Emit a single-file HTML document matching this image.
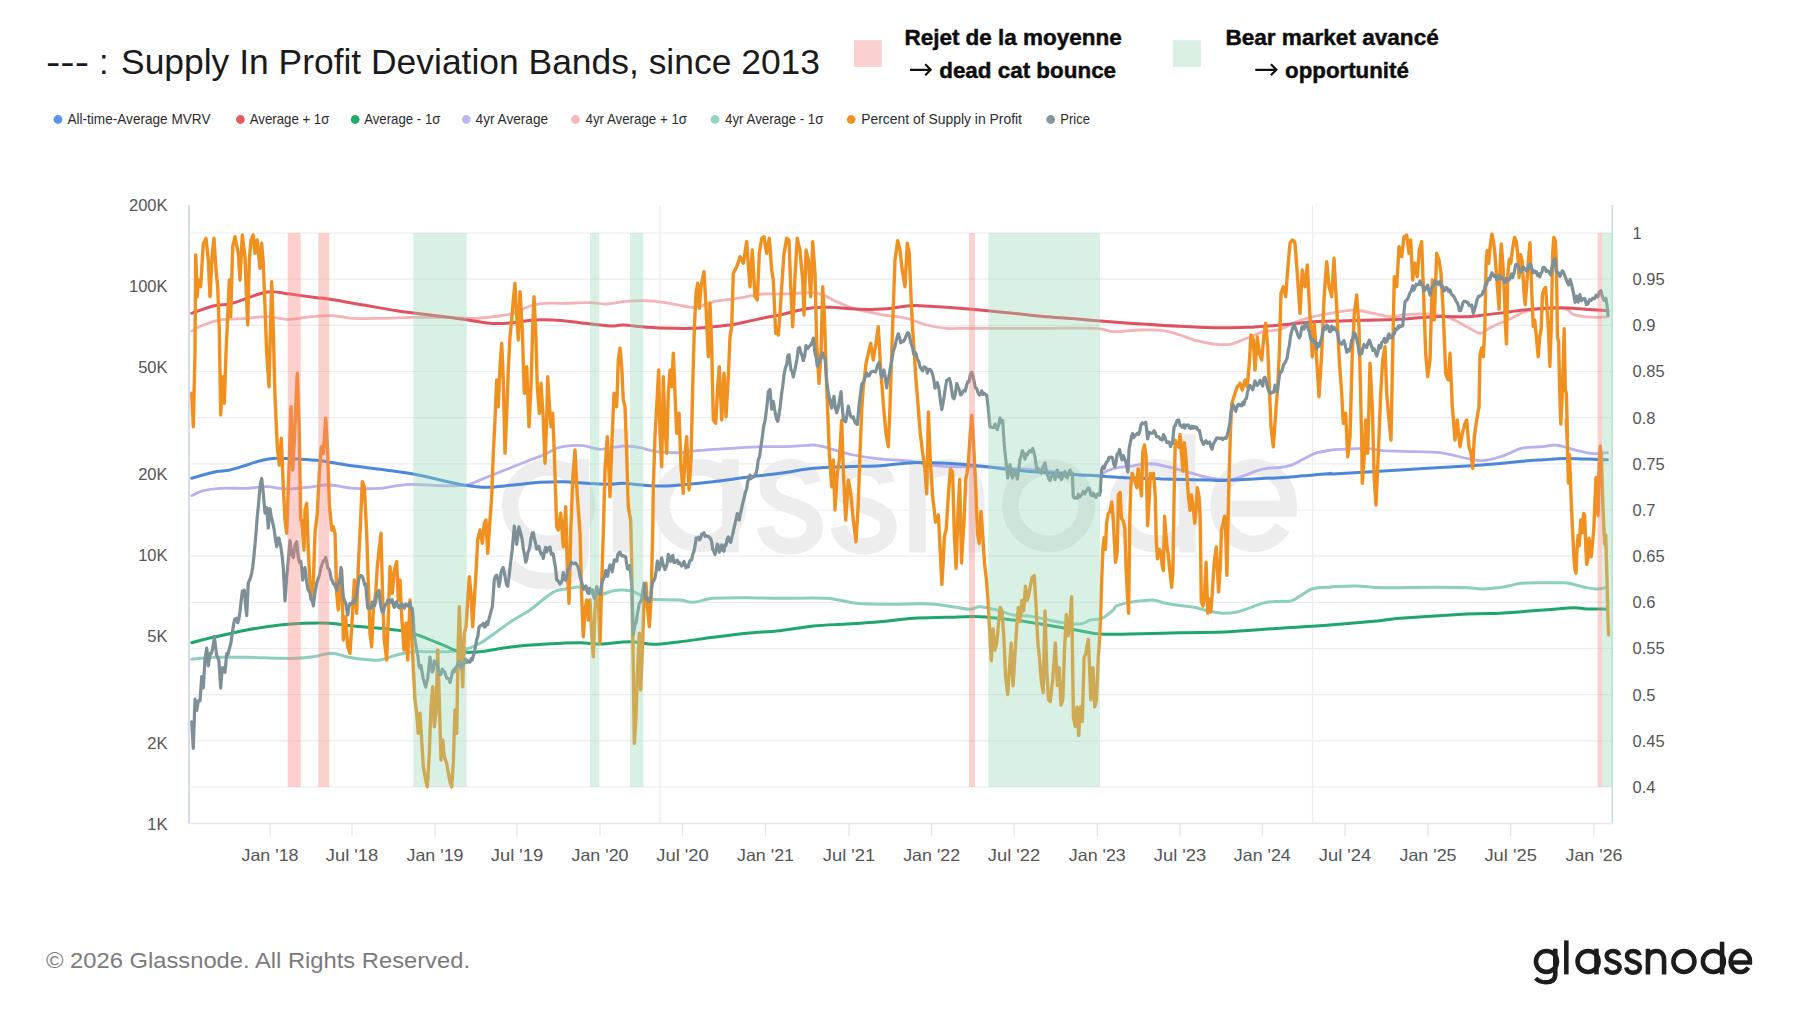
<!DOCTYPE html>
<html><head><meta charset="utf-8"><title>Supply In Profit Deviation Bands</title>
<style>html,body{margin:0;padding:0;background:#fff}body{width:1800px;height:1013px;overflow:hidden}</style></head>
<body>
<svg width="1800" height="1013" viewBox="0 0 1800 1013" style="display:block;font-family:'Liberation Sans',sans-serif">
<rect width="1800" height="1013" fill="#fff"/>
<g font-size="34.5" fill="#1a1a1a"><text x="46" y="73.5" textLength="43" lengthAdjust="spacingAndGlyphs">---</text><text x="99" y="73.5">:</text><text x="121" y="73.5" textLength="699" lengthAdjust="spacingAndGlyphs">Supply In Profit Deviation Bands, since 2013</text></g>
<rect x="854" y="40.2" width="27.8" height="26.7" fill="#fbd0d0"/>
<g font-weight="bold" font-size="22.3" fill="#0d0d0d" stroke="#0d0d0d" stroke-width="0.45">
<text x="904.4" y="44.7" textLength="217.4" lengthAdjust="spacingAndGlyphs">Rejet de la moyenne</text>
<text x="939.2" y="77.6" textLength="176.9" lengthAdjust="spacingAndGlyphs">dead cat bounce</text>
<text x="1225.4" y="44.7" textLength="213.4" lengthAdjust="spacingAndGlyphs">Bear market avancé</text>
<text x="1285" y="77.6" textLength="123.9" lengthAdjust="spacingAndGlyphs">opportunité</text>
</g>
<path d="M910,69.8 H930.7 M925.2,64.3 L930.7,69.8 L925.2,75.3" fill="none" stroke="#111" stroke-width="2.2" stroke-linecap="butt" stroke-linejoin="miter"/>
<path d="M1255.3,69.8 H1276.4 M1270.9,64.3 L1276.4,69.8 L1270.9,75.3" fill="none" stroke="#111" stroke-width="2.2" stroke-linecap="butt" stroke-linejoin="miter"/>
<rect x="1173" y="40.2" width="27.9" height="26.7" fill="#d9f0e3"/>
<g font-size="14.3" fill="#2b2b2b">
<circle cx="58" cy="119.5" r="4.4" fill="#5a96e3"/>
<text x="67.4" y="124.2" textLength="143.1" lengthAdjust="spacingAndGlyphs">All-time-Average MVRV</text>
<circle cx="240.4" cy="119.5" r="4.4" fill="#e55b62"/>
<text x="249.7" y="124.2" textLength="79.7" lengthAdjust="spacingAndGlyphs">Average + 1σ</text>
<circle cx="355.2" cy="119.5" r="4.4" fill="#1fab6e"/>
<text x="364.2" y="124.2" textLength="76.2" lengthAdjust="spacingAndGlyphs">Average - 1σ</text>
<circle cx="466.3" cy="119.5" r="4.4" fill="#bdb8f3"/>
<text x="475.6" y="124.2" textLength="72.5" lengthAdjust="spacingAndGlyphs">4yr Average</text>
<circle cx="575.5" cy="119.5" r="4.4" fill="#f7b8bc"/>
<text x="585.5" y="124.2" textLength="101.5" lengthAdjust="spacingAndGlyphs">4yr Average + 1σ</text>
<circle cx="715" cy="119.5" r="4.4" fill="#93d3c4"/>
<text x="725" y="124.2" textLength="98.5" lengthAdjust="spacingAndGlyphs">4yr Average - 1σ</text>
<circle cx="851.2" cy="119.5" r="4.4" fill="#ee9426"/>
<text x="861.2" y="124.2" textLength="160.8" lengthAdjust="spacingAndGlyphs">Percent of Supply in Profit</text>
<circle cx="1050.7" cy="119.5" r="4.4" fill="#8497a0"/>
<text x="1060.3" y="124.2" textLength="29.6" lengthAdjust="spacingAndGlyphs">Price</text>
</g>
<line x1="191" x2="1611" y1="233.0" y2="233.0" stroke="#ebebf0" stroke-width="1.2"/>
<line x1="191" x2="1611" y1="279.2" y2="279.2" stroke="#ebebf0" stroke-width="1.2"/>
<line x1="191" x2="1611" y1="325.3" y2="325.3" stroke="#ebebf0" stroke-width="1.2"/>
<line x1="191" x2="1611" y1="371.5" y2="371.5" stroke="#ebebf0" stroke-width="1.2"/>
<line x1="191" x2="1611" y1="417.7" y2="417.7" stroke="#ebebf0" stroke-width="1.2"/>
<line x1="191" x2="1611" y1="463.8" y2="463.8" stroke="#ebebf0" stroke-width="1.2"/>
<line x1="191" x2="1611" y1="510.0" y2="510.0" stroke="#ebebf0" stroke-width="1.2"/>
<line x1="191" x2="1611" y1="556.2" y2="556.2" stroke="#ebebf0" stroke-width="1.2"/>
<line x1="191" x2="1611" y1="602.3" y2="602.3" stroke="#ebebf0" stroke-width="1.2"/>
<line x1="191" x2="1611" y1="648.5" y2="648.5" stroke="#ebebf0" stroke-width="1.2"/>
<line x1="191" x2="1611" y1="694.7" y2="694.7" stroke="#ebebf0" stroke-width="1.2"/>
<line x1="191" x2="1611" y1="740.8" y2="740.8" stroke="#ebebf0" stroke-width="1.2"/>
<line x1="191" x2="1611" y1="787.0" y2="787.0" stroke="#ebebf0" stroke-width="1.2"/>
<line x1="660" x2="660" y1="205" y2="823.5" stroke="#ececf2" stroke-width="1.2"/>
<line x1="1312.5" x2="1312.5" y1="205" y2="823.5" stroke="#ececf2" stroke-width="1.2"/>
<g transform="translate(470.48,391.00) scale(0.4850)" stroke="#ededed"><g fill="none" stroke-width="34" stroke-linecap="butt"><circle cx="161" cy="236" r="79"/><path d="M227,140 V330 Q227,392 155,392 Q110,392 80,362"/><path d="M310,78 V333"/><circle cx="473" cy="236" r="79"/><path d="M536,140 V333"/><path d="M706,190 C700,165 680,157 660,157 C632,157 613,172 613,195 C613,222 640,230 662,237 C688,245 710,255 710,280 C710,305 688,320 660,320 C632,320 612,305 607,280"/><path d="M858,190 C852,165 832,157 812,157 C784,157 765,172 765,195 C765,222 792,230 814,237 C840,245 862,255 862,280 C862,305 840,320 812,320 C784,320 764,305 759,280"/><path d="M922,140 V333 M922,225 C922,180 950,157 985,157 C1020,157 1043,180 1043,225 V333"/><circle cx="1192" cy="236" r="79"/><circle cx="1413" cy="236" r="79"/><path d="M1478,88 V333"/><path d="M1544,243 H1687.2 A72.5,79 0 1 0 1674.4,281.3"/></g></g>
<line x1="189" x2="189" y1="205" y2="823.5" stroke="#ccd3ea" stroke-width="1.6"/>
<line x1="1612.3" x2="1612.3" y1="205" y2="823.5" stroke="#c4e2dc" stroke-width="1.6"/>
<line x1="189" x2="1612" y1="823.5" y2="823.5" stroke="#e3e5ee" stroke-width="1.4"/>
<g font-size="16.5" fill="#555" text-anchor="middle">
<line x1="270" x2="270" y1="823.5" y2="836.5" stroke="#e3e5ee" stroke-width="1.3"/>
<text x="270" y="860.5" textLength="57" lengthAdjust="spacingAndGlyphs">Jan '18</text>
<line x1="352" x2="352" y1="823.5" y2="836.5" stroke="#e3e5ee" stroke-width="1.3"/>
<text x="352" y="860.5" textLength="52.5" lengthAdjust="spacingAndGlyphs">Jul '18</text>
<line x1="435" x2="435" y1="823.5" y2="836.5" stroke="#e3e5ee" stroke-width="1.3"/>
<text x="435" y="860.5" textLength="57" lengthAdjust="spacingAndGlyphs">Jan '19</text>
<line x1="517" x2="517" y1="823.5" y2="836.5" stroke="#e3e5ee" stroke-width="1.3"/>
<text x="517" y="860.5" textLength="52.5" lengthAdjust="spacingAndGlyphs">Jul '19</text>
<line x1="600" x2="600" y1="823.5" y2="836.5" stroke="#e3e5ee" stroke-width="1.3"/>
<text x="600" y="860.5" textLength="57" lengthAdjust="spacingAndGlyphs">Jan '20</text>
<line x1="682.5" x2="682.5" y1="823.5" y2="836.5" stroke="#e3e5ee" stroke-width="1.3"/>
<text x="682.5" y="860.5" textLength="52.5" lengthAdjust="spacingAndGlyphs">Jul '20</text>
<line x1="765.5" x2="765.5" y1="823.5" y2="836.5" stroke="#e3e5ee" stroke-width="1.3"/>
<text x="765.5" y="860.5" textLength="57" lengthAdjust="spacingAndGlyphs">Jan '21</text>
<line x1="849" x2="849" y1="823.5" y2="836.5" stroke="#e3e5ee" stroke-width="1.3"/>
<text x="849" y="860.5" textLength="52.5" lengthAdjust="spacingAndGlyphs">Jul '21</text>
<line x1="931.7" x2="931.7" y1="823.5" y2="836.5" stroke="#e3e5ee" stroke-width="1.3"/>
<text x="931.7" y="860.5" textLength="57" lengthAdjust="spacingAndGlyphs">Jan '22</text>
<line x1="1014" x2="1014" y1="823.5" y2="836.5" stroke="#e3e5ee" stroke-width="1.3"/>
<text x="1014" y="860.5" textLength="52.5" lengthAdjust="spacingAndGlyphs">Jul '22</text>
<line x1="1097.3" x2="1097.3" y1="823.5" y2="836.5" stroke="#e3e5ee" stroke-width="1.3"/>
<text x="1097.3" y="860.5" textLength="57" lengthAdjust="spacingAndGlyphs">Jan '23</text>
<line x1="1180" x2="1180" y1="823.5" y2="836.5" stroke="#e3e5ee" stroke-width="1.3"/>
<text x="1180" y="860.5" textLength="52.5" lengthAdjust="spacingAndGlyphs">Jul '23</text>
<line x1="1262.3" x2="1262.3" y1="823.5" y2="836.5" stroke="#e3e5ee" stroke-width="1.3"/>
<text x="1262.3" y="860.5" textLength="57" lengthAdjust="spacingAndGlyphs">Jan '24</text>
<line x1="1345" x2="1345" y1="823.5" y2="836.5" stroke="#e3e5ee" stroke-width="1.3"/>
<text x="1345" y="860.5" textLength="52.5" lengthAdjust="spacingAndGlyphs">Jul '24</text>
<line x1="1428" x2="1428" y1="823.5" y2="836.5" stroke="#e3e5ee" stroke-width="1.3"/>
<text x="1428" y="860.5" textLength="57" lengthAdjust="spacingAndGlyphs">Jan '25</text>
<line x1="1510.7" x2="1510.7" y1="823.5" y2="836.5" stroke="#e3e5ee" stroke-width="1.3"/>
<text x="1510.7" y="860.5" textLength="52.5" lengthAdjust="spacingAndGlyphs">Jul '25</text>
<line x1="1594" x2="1594" y1="823.5" y2="836.5" stroke="#e3e5ee" stroke-width="1.3"/>
<text x="1594" y="860.5" textLength="57" lengthAdjust="spacingAndGlyphs">Jan '26</text>
</g>
<g font-size="16.5" fill="#555" text-anchor="end">
<text x="167.5" y="211.1">200K</text>
<text x="167.5" y="292.1">100K</text>
<text x="167.5" y="373.1">50K</text>
<text x="167.5" y="480.1">20K</text>
<text x="167.5" y="561.1">10K</text>
<text x="167.5" y="642.1">5K</text>
<text x="167.5" y="749.1">2K</text>
<text x="167.5" y="830.1">1K</text>
</g>
<g font-size="16.5" fill="#555">
<text x="1632.5" y="238.8">1</text>
<text x="1632.5" y="285.0">0.95</text>
<text x="1632.5" y="331.1">0.9</text>
<text x="1632.5" y="377.3">0.85</text>
<text x="1632.5" y="423.5">0.8</text>
<text x="1632.5" y="469.6">0.75</text>
<text x="1632.5" y="515.8">0.7</text>
<text x="1632.5" y="562.0">0.65</text>
<text x="1632.5" y="608.1">0.6</text>
<text x="1632.5" y="654.3">0.55</text>
<text x="1632.5" y="700.5">0.5</text>
<text x="1632.5" y="746.6">0.45</text>
<text x="1632.5" y="792.8">0.4</text>
</g>
<path d="M191.7,495.7 C193.6,494.8 198.6,491.9 203.3,490.7 C208.1,489.4 212.8,488.7 220.0,488.3 C227.2,487.9 238.9,488.6 246.7,488.3 C254.4,488.1 260.0,486.6 266.7,486.7 C273.3,486.8 280.0,488.9 286.7,489.0 C293.3,489.1 299.4,488.0 306.7,487.3 C313.9,486.7 322.2,484.8 330.0,485.0 C337.8,485.2 345.0,487.8 353.3,488.3 C361.7,488.9 372.8,488.8 380.0,488.3 C387.2,487.9 391.1,486.3 396.7,485.7 C402.2,485.0 406.1,484.3 413.3,484.3 C420.6,484.3 431.1,485.6 440.0,485.7 C448.9,485.8 460.0,485.9 466.7,485.0 C473.3,484.1 475.0,481.9 480.0,480.0 C485.0,478.1 491.1,475.6 496.7,473.3 C502.2,471.1 507.8,468.9 513.3,466.7 C518.9,464.4 525.0,461.9 530.0,460.0 C535.0,458.1 538.9,456.9 543.3,455.0 C547.8,453.1 552.2,449.9 556.7,448.3 C561.1,446.8 565.6,446.1 570.0,445.7 C574.4,445.2 578.3,445.1 583.3,445.7 C588.3,446.3 595.0,449.1 600.0,449.3 C605.0,449.6 608.9,447.9 613.3,447.3 C617.8,446.8 622.2,445.9 626.7,446.0 C631.1,446.1 635.0,446.7 640.0,447.7 C645.0,448.6 650.0,450.8 656.7,451.7 C663.3,452.5 673.3,452.8 680.0,452.7 C686.7,452.5 688.3,451.4 696.7,450.7 C705.0,449.9 718.9,449.0 730.0,448.3 C741.1,447.7 755.0,446.9 763.3,446.7 C771.7,446.4 774.4,446.8 780.0,446.7 C785.6,446.6 791.1,446.3 796.7,446.0 C802.2,445.7 808.9,444.9 813.3,445.0 C817.8,445.1 819.4,445.7 823.3,446.7 C827.2,447.6 831.7,449.3 836.7,450.7 C841.7,452.1 846.1,453.6 853.3,455.0 C860.6,456.4 871.1,458.1 880.0,459.0 C888.9,459.9 898.3,459.7 906.7,460.7 C915.0,461.7 922.2,464.0 930.0,465.0 C937.8,466.0 945.0,466.4 953.3,466.7 C961.7,466.9 970.0,466.4 980.0,466.7 C990.0,466.9 1002.2,467.7 1013.3,468.3 C1024.4,469.0 1035.6,469.6 1046.7,470.7 C1057.8,471.8 1072.8,474.2 1080.0,475.0 C1087.2,475.8 1086.8,475.3 1090.0,475.3 C1093.2,475.4 1096.7,476.0 1099.5,475.3 C1102.2,474.6 1103.4,472.4 1106.6,471.1 C1109.7,469.8 1114.1,468.4 1118.4,467.5 C1122.8,466.7 1128.3,466.5 1132.6,465.9 C1137.0,465.3 1140.9,464.3 1144.5,464.0 C1148.0,463.7 1150.4,463.6 1154.0,464.0 C1157.5,464.4 1161.5,465.3 1165.8,466.3 C1170.2,467.3 1175.3,468.6 1180.0,469.9 C1184.8,471.2 1189.5,472.6 1194.2,473.9 C1199.0,475.2 1204.1,476.8 1208.5,477.7 C1212.8,478.6 1216.4,479.1 1220.3,479.4 C1224.2,479.6 1228.2,480.0 1232.1,479.4 C1236.1,478.8 1240.0,477.2 1244.0,475.8 C1247.9,474.4 1251.9,472.3 1255.8,471.1 C1259.8,469.8 1263.7,468.8 1267.7,468.2 C1271.6,467.6 1275.6,468.0 1279.5,467.5 C1283.5,467.0 1287.4,466.5 1291.4,465.2 C1295.3,463.8 1299.3,461.2 1303.2,459.2 C1307.2,457.3 1310.6,454.8 1315.1,453.3 C1319.5,451.8 1325.8,450.9 1330.0,450.2 C1334.1,449.6 1333.9,449.6 1340.0,449.3 C1346.1,449.0 1359.4,448.1 1366.7,448.3 C1373.9,448.6 1375.0,450.1 1383.3,450.7 C1391.7,451.2 1407.2,451.3 1416.7,451.7 C1426.1,452.0 1431.7,451.6 1440.0,452.7 C1448.3,453.8 1459.4,457.0 1466.7,458.3 C1473.9,459.7 1477.8,460.9 1483.3,460.7 C1488.9,460.4 1495.4,458.3 1500.0,456.9 C1504.6,455.6 1507.2,454.0 1510.9,452.6 C1514.5,451.1 1518.1,449.1 1521.7,448.2 C1525.3,447.3 1528.9,447.4 1532.6,447.1 C1536.2,446.8 1539.6,446.8 1543.4,446.5 C1547.2,446.1 1551.7,444.9 1555.4,445.0 C1559.0,445.1 1561.7,446.2 1565.1,447.1 C1568.6,448.0 1572.4,449.5 1576.0,450.4 C1579.6,451.3 1583.6,452.0 1586.8,452.6 C1590.1,453.1 1592.1,453.7 1595.5,453.7 C1599.0,453.7 1605.5,452.7 1607.5,452.6" fill="none" stroke="#b9b1ef" stroke-width="2.8" stroke-linecap="round" stroke-linejoin="round" opacity="1"/>
<path d="M191.7,331.0 C193.6,330.0 198.6,326.8 203.3,325.0 C208.1,323.2 212.8,321.1 220.0,320.0 C227.2,318.9 238.9,318.9 246.7,318.3 C254.4,317.8 260.0,316.5 266.7,316.7 C273.3,316.8 280.0,319.2 286.7,319.3 C293.3,319.4 299.4,317.9 306.7,317.3 C313.9,316.7 322.2,315.5 330.0,315.7 C337.8,315.8 345.0,317.9 353.3,318.3 C361.7,318.8 370.0,318.5 380.0,318.3 C390.0,318.2 402.2,317.5 413.3,317.3 C424.4,317.2 436.7,317.2 446.7,317.3 C456.7,317.5 465.6,318.4 473.3,318.3 C481.1,318.2 486.7,317.5 493.3,316.7 C500.0,315.8 507.2,315.1 513.3,313.3 C519.4,311.6 525.0,307.7 530.0,306.0 C535.0,304.3 537.8,303.8 543.3,303.3 C548.9,302.9 555.6,303.4 563.3,303.3 C571.1,303.2 582.8,302.6 590.0,302.7 C597.2,302.8 601.1,304.2 606.7,304.0 C612.2,303.8 617.2,302.2 623.3,301.7 C629.4,301.1 636.7,300.6 643.3,300.7 C650.0,300.8 656.7,301.4 663.3,302.3 C670.0,303.2 677.8,305.2 683.3,306.0 C688.9,306.8 691.7,308.1 696.7,307.3 C701.7,306.6 707.8,303.0 713.3,301.7 C718.9,300.3 724.4,300.2 730.0,299.3 C735.6,298.5 741.1,297.6 746.7,296.7 C752.2,295.8 757.8,294.4 763.3,294.0 C768.9,293.6 774.4,294.1 780.0,294.0 C785.6,293.9 791.1,293.6 796.7,293.3 C802.2,293.1 808.9,292.4 813.3,292.7 C817.8,292.9 819.4,293.5 823.3,295.0 C827.2,296.5 831.7,299.4 836.7,301.7 C841.7,303.9 846.1,306.2 853.3,308.3 C860.6,310.4 871.1,312.7 880.0,314.3 C888.9,316.0 898.9,316.6 906.7,318.3 C914.4,320.1 920.0,323.3 926.7,325.0 C933.3,326.7 940.0,327.8 946.7,328.3 C953.3,328.9 958.9,328.3 966.7,328.3 C974.4,328.3 980.0,328.3 993.3,328.3 C1006.7,328.3 1029.4,328.3 1046.7,328.3 C1063.9,328.3 1085.6,327.8 1096.7,328.3 C1107.8,328.9 1106.1,331.4 1113.3,331.7 C1120.6,331.9 1131.7,330.2 1140.0,330.0 C1148.3,329.8 1156.7,329.8 1163.3,330.7 C1170.0,331.5 1174.4,333.3 1180.0,335.0 C1185.6,336.7 1191.1,339.2 1196.7,340.7 C1202.2,342.2 1207.8,343.4 1213.3,344.0 C1218.9,344.6 1224.4,345.3 1230.0,344.3 C1235.6,343.4 1241.1,340.4 1246.7,338.3 C1252.2,336.2 1257.8,333.2 1263.3,331.7 C1268.9,330.2 1274.4,331.0 1280.0,329.3 C1285.6,327.7 1291.1,323.8 1296.7,321.7 C1302.2,319.6 1307.8,318.1 1313.3,316.7 C1318.9,315.3 1324.4,314.3 1330.0,313.3 C1335.6,312.3 1342.2,311.2 1346.7,310.7 C1351.1,310.1 1352.2,309.6 1356.7,310.0 C1361.1,310.4 1367.8,312.2 1373.3,313.3 C1378.9,314.4 1384.4,316.4 1390.0,316.7 C1395.6,316.9 1400.6,315.1 1406.7,314.7 C1412.8,314.2 1420.0,313.7 1426.7,314.0 C1433.3,314.3 1440.0,314.6 1446.7,316.7 C1453.3,318.8 1461.1,323.9 1466.7,326.7 C1472.2,329.4 1476.3,333.0 1480.0,333.3 C1483.7,333.6 1485.8,330.1 1488.7,328.6 C1491.6,327.0 1494.5,325.5 1497.4,324.2 C1500.3,322.9 1503.2,322.2 1506.1,321.0 C1508.9,319.7 1511.8,318.1 1514.7,316.6 C1517.6,315.2 1520.2,313.5 1523.4,312.3 C1526.7,311.1 1530.7,310.2 1534.3,309.4 C1537.9,308.7 1541.5,308.3 1545.1,307.9 C1548.8,307.6 1552.4,307.2 1556.0,307.5 C1559.6,307.7 1563.9,308.3 1566.8,309.4 C1569.7,310.6 1570.5,313.2 1573.4,314.4 C1576.3,315.6 1580.2,316.1 1584.2,316.6 C1588.2,317.1 1593.3,317.3 1597.2,317.3 C1601.2,317.3 1606.3,316.7 1608.1,316.6" fill="none" stroke="#f4b3b6" stroke-width="2.8" stroke-linecap="round" stroke-linejoin="round" opacity="1"/>
<path d="M191.7,659.3 C195.3,659.0 204.2,657.7 213.3,657.3 C222.5,657.0 235.6,657.2 246.7,657.3 C257.8,657.5 271.7,658.2 280.0,658.3 C288.3,658.5 291.1,658.6 296.7,658.3 C302.2,658.1 307.5,657.5 313.3,656.7 C319.2,655.8 326.1,653.3 331.7,653.3 C337.2,653.3 341.4,655.7 346.7,656.7 C351.9,657.7 357.8,658.8 363.3,659.3 C368.9,659.9 374.4,660.7 380.0,660.0 C385.6,659.3 391.1,656.4 396.7,655.0 C402.2,653.6 408.3,652.2 413.3,651.7 C418.3,651.1 421.1,651.7 426.7,651.7 C432.2,651.7 440.6,651.9 446.7,651.7 C452.8,651.4 457.8,651.4 463.3,650.0 C468.9,648.6 474.4,646.4 480.0,643.3 C485.6,640.3 491.1,635.6 496.7,631.7 C502.2,627.8 507.8,623.6 513.3,620.0 C518.9,616.4 524.4,613.9 530.0,610.0 C535.6,606.1 542.2,599.9 546.7,596.7 C551.1,593.4 552.8,592.1 556.7,590.7 C560.6,589.3 566.1,588.9 570.0,588.3 C573.9,587.8 575.6,586.2 580.0,587.3 C584.4,588.4 591.1,594.4 596.7,595.0 C602.2,595.6 608.9,591.5 613.3,590.7 C617.8,589.8 620.0,589.8 623.3,590.0 C626.7,590.2 630.0,590.6 633.3,591.7 C636.7,592.8 640.0,595.4 643.3,596.7 C646.7,597.9 647.2,598.8 653.3,599.3 C659.4,599.9 673.3,599.5 680.0,600.0 C686.7,600.5 687.8,602.6 693.3,602.3 C698.9,602.1 704.4,599.1 713.3,598.3 C722.2,597.6 735.6,597.7 746.7,597.7 C757.8,597.7 766.7,598.2 780.0,598.3 C793.3,598.4 813.9,597.5 826.7,598.3 C839.4,599.2 846.1,602.3 856.7,603.3 C867.2,604.3 877.8,604.2 890.0,604.3 C902.2,604.4 918.9,603.5 930.0,604.0 C941.1,604.5 950.0,606.4 956.7,607.3 C963.3,608.2 966.1,609.4 970.0,609.3 C973.9,609.2 975.6,606.6 980.0,606.7 C984.4,606.8 991.1,608.6 996.7,610.0 C1002.2,611.4 1007.2,613.9 1013.3,615.0 C1019.4,616.1 1026.1,615.6 1033.3,616.7 C1040.6,617.8 1048.9,620.4 1056.7,621.7 C1064.4,622.9 1074.4,624.3 1080.0,624.0 C1085.6,623.7 1086.4,620.9 1090.0,620.0 C1093.6,619.1 1097.8,620.0 1101.7,618.3 C1105.6,616.7 1110.9,612.0 1113.3,610.0 C1115.7,608.0 1113.6,607.4 1116.1,606.1 C1118.5,604.9 1124.0,603.4 1127.9,602.6 C1131.9,601.7 1135.4,601.3 1139.8,600.9 C1144.1,600.5 1149.6,599.8 1154.0,600.2 C1158.3,600.6 1161.5,602.4 1165.8,603.3 C1170.2,604.2 1175.3,605.0 1180.0,605.6 C1184.8,606.3 1189.5,606.4 1194.2,607.3 C1199.0,608.2 1203.7,609.9 1208.5,610.9 C1213.2,611.8 1217.9,613.0 1222.7,613.2 C1227.4,613.4 1232.1,613.0 1236.9,612.0 C1241.6,611.0 1246.4,608.9 1251.1,607.3 C1255.8,605.7 1260.6,603.5 1265.3,602.6 C1270.1,601.6 1275.2,601.7 1279.5,601.4 C1283.9,601.1 1287.8,601.9 1291.4,600.9 C1294.9,599.9 1297.7,597.3 1300.9,595.5 C1304.0,593.6 1307.2,590.8 1310.3,589.5 C1313.5,588.2 1316.5,588.0 1319.8,587.6 C1323.1,587.2 1327.7,587.3 1330.0,587.2 C1332.2,587.0 1328.9,586.9 1333.3,586.7 C1337.8,586.5 1348.3,585.8 1356.7,586.0 C1365.0,586.2 1370.6,587.4 1383.3,587.7 C1396.1,587.9 1419.4,587.3 1433.3,587.3 C1447.2,587.3 1458.3,587.4 1466.7,587.7 C1475.0,587.9 1477.8,589.0 1483.3,589.0 C1488.9,589.0 1495.4,588.2 1500.0,587.6 C1504.6,587.0 1507.2,586.2 1510.9,585.4 C1514.5,584.7 1516.3,583.7 1521.7,583.3 C1527.1,582.8 1536.2,582.9 1543.4,582.8 C1550.7,582.8 1559.7,582.5 1565.1,582.8 C1570.6,583.2 1572.4,584.2 1576.0,585.0 C1579.6,585.8 1583.6,587.0 1586.8,587.6 C1590.1,588.3 1592.3,588.9 1595.5,588.9 C1598.8,588.9 1604.6,587.8 1606.4,587.6" fill="none" stroke="#8ccfbf" stroke-width="3.0" stroke-linecap="round" stroke-linejoin="round" opacity="1"/>
<path d="M191.7,478.3 C195.3,477.3 206.9,473.7 213.3,472.3 C219.7,470.9 224.4,471.2 230.0,470.0 C235.6,468.8 241.1,466.7 246.7,465.0 C252.2,463.3 258.3,461.1 263.3,460.0 C268.3,458.9 271.1,458.5 276.7,458.3 C282.2,458.2 289.4,458.6 296.7,459.0 C303.9,459.4 311.7,459.7 320.0,460.7 C328.3,461.7 336.7,463.6 346.7,465.0 C356.7,466.4 368.9,467.8 380.0,469.3 C391.1,470.8 403.3,472.2 413.3,474.0 C423.3,475.8 431.7,478.2 440.0,480.0 C448.3,481.8 455.6,483.8 463.3,485.0 C471.1,486.2 478.3,487.3 486.7,487.3 C495.0,487.3 504.4,485.8 513.3,485.0 C522.2,484.2 531.7,482.9 540.0,482.3 C548.3,481.8 555.6,481.5 563.3,481.7 C571.1,481.8 578.9,482.9 586.7,483.3 C594.4,483.8 603.9,484.3 610.0,484.3 C616.1,484.3 616.1,483.1 623.3,483.3 C630.6,483.6 643.9,485.7 653.3,486.0 C662.8,486.3 670.0,485.7 680.0,485.0 C690.0,484.3 702.2,482.9 713.3,481.7 C724.4,480.4 735.6,478.7 746.7,477.3 C757.8,475.9 768.9,474.8 780.0,473.3 C791.1,471.8 802.2,469.4 813.3,468.3 C824.4,467.2 835.6,467.1 846.7,466.7 C857.8,466.2 868.9,466.3 880.0,465.7 C891.1,465.0 902.2,463.1 913.3,462.7 C924.4,462.3 935.6,462.8 946.7,463.3 C957.8,463.9 968.9,464.9 980.0,466.0 C991.1,467.1 1002.2,468.9 1013.3,470.0 C1024.4,471.1 1035.6,471.8 1046.7,472.7 C1057.8,473.5 1072.8,474.6 1080.0,475.0 C1087.2,475.4 1084.4,475.0 1090.0,475.3 C1095.6,475.7 1105.8,476.5 1113.7,477.0 C1121.6,477.5 1129.5,477.9 1137.4,478.2 C1145.3,478.5 1153.2,478.7 1161.1,478.9 C1169.0,479.1 1176.9,479.2 1184.8,479.4 C1192.7,479.6 1202.1,479.9 1208.5,480.1 C1214.8,480.3 1216.7,480.7 1222.7,480.5 C1228.6,480.4 1234.5,479.8 1244.0,479.4 C1253.5,478.9 1269.7,478.3 1279.5,477.7 C1289.4,477.1 1294.8,476.5 1303.2,475.8 C1311.6,475.1 1325.0,473.7 1330.0,473.4 C1335.0,473.1 1321.7,474.6 1333.3,474.0 C1345.0,473.4 1377.8,471.3 1400.0,470.0 C1422.2,468.7 1450.0,467.1 1466.7,466.0 C1483.3,464.9 1490.8,464.2 1500.0,463.4 C1509.2,462.6 1514.5,461.9 1521.7,461.3 C1528.9,460.6 1536.2,460.2 1543.4,459.7 C1550.7,459.3 1557.9,458.8 1565.1,458.6 C1572.4,458.5 1579.8,458.9 1586.8,459.1 C1593.9,459.3 1604.0,459.6 1607.5,459.7" fill="none" stroke="#4d87da" stroke-width="3.0" stroke-linecap="round" stroke-linejoin="round" opacity="1"/>
<path d="M191.7,313.3 C195.3,312.1 206.9,307.6 213.3,306.0 C219.7,304.4 224.4,305.3 230.0,304.0 C235.6,302.7 241.1,300.2 246.7,298.3 C252.2,296.4 258.9,293.8 263.3,292.7 C267.8,291.6 268.9,291.4 273.3,291.7 C277.8,291.9 283.3,293.1 290.0,294.0 C296.7,294.9 306.7,296.4 313.3,297.3 C320.0,298.2 321.7,298.1 330.0,299.3 C338.3,300.6 352.2,303.1 363.3,305.0 C374.4,306.9 385.6,309.0 396.7,310.7 C407.8,312.3 418.9,313.6 430.0,315.0 C441.1,316.4 453.3,317.9 463.3,319.3 C473.3,320.7 481.7,322.8 490.0,323.3 C498.3,323.9 506.1,323.2 513.3,322.7 C520.6,322.1 526.7,320.4 533.3,320.0 C540.0,319.6 545.6,319.6 553.3,320.0 C561.1,320.4 570.6,321.7 580.0,322.7 C589.4,323.7 602.8,325.6 610.0,326.0 C617.2,326.4 617.2,324.8 623.3,325.0 C629.4,325.2 638.3,326.8 646.7,327.3 C655.0,327.9 665.6,328.2 673.3,328.3 C681.1,328.5 686.7,328.6 693.3,328.3 C700.0,328.1 707.2,327.2 713.3,326.7 C719.4,326.1 724.4,325.8 730.0,325.0 C735.6,324.2 740.6,322.9 746.7,321.7 C752.8,320.4 761.1,318.4 766.7,317.3 C772.2,316.2 775.0,316.1 780.0,315.0 C785.0,313.9 791.1,311.9 796.7,310.7 C802.2,309.4 807.8,308.2 813.3,307.7 C818.9,307.1 821.7,307.1 830.0,307.3 C838.3,307.6 853.9,309.1 863.3,309.3 C872.8,309.6 879.4,309.2 886.7,308.7 C893.9,308.1 901.1,306.5 906.7,306.0 C912.2,305.5 913.3,305.4 920.0,305.7 C926.7,305.9 936.7,306.6 946.7,307.3 C956.7,308.1 968.9,309.0 980.0,310.0 C991.1,311.0 1002.2,312.2 1013.3,313.3 C1024.4,314.4 1035.6,315.7 1046.7,316.7 C1057.8,317.7 1068.9,318.4 1080.0,319.3 C1091.1,320.2 1102.2,321.2 1113.3,322.0 C1124.4,322.8 1135.6,323.6 1146.7,324.3 C1157.8,325.1 1168.9,325.8 1180.0,326.3 C1191.1,326.9 1202.2,327.5 1213.3,327.7 C1224.4,327.8 1235.6,327.8 1246.7,327.3 C1257.8,326.9 1268.9,325.9 1280.0,325.0 C1291.1,324.1 1302.2,322.4 1313.3,321.7 C1324.4,320.9 1332.2,321.1 1346.7,320.7 C1361.1,320.3 1385.6,320.0 1400.0,319.3 C1414.4,318.7 1422.2,317.1 1433.3,316.7 C1444.4,316.2 1458.9,316.9 1466.7,316.7 C1474.4,316.5 1474.2,316.2 1480.0,315.5 C1485.8,314.9 1494.5,313.8 1501.7,312.9 C1508.9,312.0 1516.2,310.9 1523.4,310.1 C1530.7,309.3 1537.9,308.7 1545.1,308.4 C1552.4,308.0 1559.6,307.7 1566.8,307.9 C1574.1,308.1 1581.7,309.0 1588.6,309.4 C1595.4,309.9 1604.8,310.5 1608.1,310.8" fill="none" stroke="#e0525f" stroke-width="3.0" stroke-linecap="round" stroke-linejoin="round" opacity="1"/>
<path d="M191.7,642.7 C195.3,641.8 204.2,639.4 213.3,637.3 C222.5,635.2 235.6,632.1 246.7,630.0 C257.8,627.9 270.6,626.1 280.0,625.0 C289.4,623.9 295.0,623.6 303.3,623.3 C311.7,623.1 321.7,622.9 330.0,623.3 C338.3,623.8 345.0,625.2 353.3,626.0 C361.7,626.8 371.1,627.4 380.0,628.3 C388.9,629.3 398.9,630.0 406.7,631.7 C414.4,633.3 420.0,635.8 426.7,638.3 C433.3,640.8 441.1,644.4 446.7,646.7 C452.2,648.9 454.4,650.8 460.0,651.7 C465.6,652.5 471.1,652.5 480.0,651.7 C488.9,650.8 502.2,647.9 513.3,646.7 C524.4,645.4 535.6,644.7 546.7,644.0 C557.8,643.3 571.1,642.7 580.0,642.7 C588.9,642.7 591.7,644.2 600.0,644.0 C608.3,643.8 621.1,641.6 630.0,641.7 C638.9,641.7 645.0,644.3 653.3,644.3 C661.7,644.3 670.0,642.8 680.0,641.7 C690.0,640.5 702.2,638.7 713.3,637.3 C724.4,635.9 735.6,634.4 746.7,633.3 C757.8,632.2 768.9,631.9 780.0,630.7 C791.1,629.4 802.2,627.1 813.3,626.0 C824.4,624.9 835.6,624.7 846.7,624.0 C857.8,623.3 868.9,622.6 880.0,621.7 C891.1,620.7 902.2,619.1 913.3,618.3 C924.4,617.6 935.6,617.6 946.7,617.3 C957.8,617.1 968.9,616.2 980.0,616.7 C991.1,617.1 1002.2,618.6 1013.3,620.0 C1024.4,621.4 1035.6,623.2 1046.7,625.0 C1057.8,626.8 1071.1,629.2 1080.0,630.7 C1088.9,632.2 1091.7,633.4 1100.0,634.0 C1108.3,634.6 1116.7,634.2 1130.0,634.0 C1143.3,633.8 1163.3,633.1 1180.0,632.7 C1196.7,632.3 1213.3,632.4 1230.0,631.7 C1246.7,630.9 1263.3,629.4 1280.0,628.3 C1296.7,627.2 1313.3,626.3 1330.0,625.0 C1346.7,623.7 1368.3,621.8 1380.0,620.7 C1391.7,619.6 1385.6,619.4 1400.0,618.3 C1414.4,617.2 1450.0,614.9 1466.7,614.0 C1483.3,613.1 1490.8,613.6 1500.0,613.2 C1509.2,612.8 1514.5,612.2 1521.7,611.7 C1528.9,611.2 1536.2,610.5 1543.4,610.0 C1550.7,609.4 1559.7,608.6 1565.1,608.2 C1570.6,607.9 1572.4,607.7 1576.0,607.8 C1579.6,607.9 1581.8,608.7 1586.8,608.9 C1591.9,609.1 1603.1,608.9 1606.4,608.9" fill="none" stroke="#1ea66c" stroke-width="3.0" stroke-linecap="round" stroke-linejoin="round" opacity="1"/>
<polyline points="191.7,393.3 193.3,426.7 195.0,353.3 195.7,255.0 197.3,296.7 198.3,280.0 200.7,286.7 202.0,264.7 203.3,243.3 204.7,241.5 206.0,238.3 208.3,260.0 210.0,296.7 212.3,253.3 214.0,238.3 216.0,270.0 217.7,286.7 219.3,330.0 220.7,415.0 222.7,376.7 224.3,403.3 226.0,353.3 227.7,316.7 229.3,280.0 230.7,316.7 232.7,246.7 235.0,236.7 236.7,245.5 238.3,253.3 240.0,280.0 242.3,235.0 243.7,247.1 245.0,256.7 246.3,292.0 247.7,325.0 249.3,260.0 251.0,240.0 253.3,235.0 255.0,253.3 257.3,240.0 258.7,255.6 260.0,268.3 261.7,243.3 263.3,263.3 265.0,306.7 266.7,353.3 269.0,386.7 270.0,346.7 271.7,281.7 273.3,330.0 275.0,396.7 277.3,446.7 279.3,465.0 281.3,438.3 283.3,486.7 285.0,520.0 286.7,533.3 288.0,495.7 289.3,460.0 291.0,406.7 292.7,470.0 294.3,440.0 295.8,405.7 297.3,373.3 299.3,433.3 300.7,520.0 301.7,520.0 304.0,550.0 305.0,510.0 306.7,503.3 308.3,550.0 310.0,583.3 311.7,596.7 313.3,583.3 315.0,533.3 317.3,513.3 319.3,473.3 321.3,446.7 323.3,453.3 325.7,418.3 327.7,453.3 329.3,503.3 331.7,530.0 333.3,526.7 335.0,533.3 336.7,593.3 338.3,610.0 340.0,586.7 341.7,570.0 343.3,640.0 345.7,616.7 347.7,646.7 350.0,653.3 352.3,616.7 354.3,580.0 356.7,613.3 358.3,566.7 360.0,533.3 362.3,481.7 364.3,486.7 366.7,533.3 368.3,583.3 370.0,633.3 371.7,646.7 373.3,610.0 375.7,593.3 377.3,566.7 379.0,550.0 381.0,533.3 382.7,600.0 384.3,640.0 386.7,660.0 388.3,616.7 390.0,566.7 392.3,593.3 394.3,570.0 396.7,561.7 398.3,600.0 400.0,580.0 401.7,616.7 404.0,650.0 406.0,623.3 407.7,660.0 410.0,600.0 411.7,633.3 413.3,666.7 415.0,700.0 416.7,713.3 418.3,733.3 420.0,713.3 421.7,740.0 423.3,766.7 425.7,780.0 427.3,786.7 429.3,753.3 431.0,706.7 432.7,686.7 434.3,726.7 436.0,713.3 437.7,650.0 439.3,700.0 441.0,760.0 442.7,740.0 444.3,756.7 446.7,763.3 449.0,776.7 450.3,782.6 451.7,786.7 453.3,763.3 455.0,710.0 456.7,733.3 458.3,640.0 459.3,606.7 461.0,650.0 462.7,686.7 464.3,633.3 466.0,626.7 467.7,600.0 469.3,576.7 471.0,593.3 472.7,626.7 474.3,600.0 476.0,573.3 477.7,540.0 480.0,530.0 482.3,543.3 484.3,523.3 486.0,520.0 487.7,553.3 490.0,520.0 491.7,496.7 493.3,453.3 495.0,420.0 496.7,380.0 498.3,406.7 500.0,366.7 501.7,343.3 503.3,380.0 505.0,453.3 506.7,413.3 508.3,370.0 510.0,336.7 511.7,320.0 513.3,300.0 515.0,283.3 516.7,316.7 518.3,340.0 520.0,291.7 522.3,330.0 524.3,393.3 526.7,366.7 529.0,426.7 531.0,386.7 532.7,326.7 534.0,296.7 535.7,330.0 537.3,386.7 539.3,413.3 541.0,383.3 543.3,420.0 545.0,463.3 546.7,420.0 547.7,376.7 549.3,403.3 551.0,426.7 552.7,413.3 554.3,453.3 556.7,526.7 558.3,530.0 560.7,513.3 562.0,528.9 563.3,546.7 565.7,506.7 567.3,566.7 569.0,603.3 570.7,533.3 572.7,480.0 575.0,450.0 577.3,496.7 578.7,514.4 580.0,533.3 581.7,596.7 583.3,636.7 585.0,610.0 586.7,600.0 588.3,620.0 590.0,600.0 591.7,633.3 593.3,656.7 595.0,610.0 596.7,586.7 598.3,600.0 600.0,643.3 601.7,583.3 603.3,533.3 605.0,470.0 607.3,436.7 608.7,465.7 610.0,496.7 612.0,440.0 614.0,393.3 615.3,401.6 616.7,406.7 618.3,360.0 620.0,348.3 621.7,366.7 623.3,400.0 625.0,406.7 626.7,453.3 628.3,506.7 630.7,520.0 631.7,566.7 633.3,666.7 634.3,743.3 636.0,716.7 637.7,666.7 639.3,633.3 640.7,690.0 642.7,640.0 644.0,600.0 646.0,583.3 647.7,610.0 649.3,626.7 651.0,600.0 652.7,533.3 653.3,486.7 655.0,436.7 656.7,406.7 658.7,370.0 660.0,433.3 661.7,466.7 663.3,376.7 665.0,426.7 666.7,453.3 668.3,393.3 670.0,370.0 671.7,386.7 673.3,353.3 675.0,393.3 676.7,433.3 679.0,413.3 681.0,466.7 683.3,493.3 685.0,453.3 686.7,436.7 689.0,490.0 691.0,460.0 692.7,386.7 694.3,330.0 696.0,293.3 697.7,283.3 699.3,308.3 701.0,286.7 702.5,278.8 704.0,271.7 706.0,306.7 708.3,356.7 710.0,303.3 711.7,346.7 713.3,420.0 715.7,423.3 717.7,386.7 719.3,366.7 721.7,420.0 724.0,373.3 726.0,416.7 728.3,376.7 730.0,336.7 731.7,326.7 733.3,273.3 735.0,269.9 736.7,266.7 738.3,262.3 740.0,256.7 741.7,260.1 743.3,263.3 745.0,252.5 746.7,241.7 748.3,265.0 750.0,286.7 752.3,250.0 753.7,274.0 755.0,296.7 757.3,300.0 759.3,253.3 761.7,238.3 764.0,236.7 765.3,245.6 766.7,253.3 768.0,245.3 769.3,238.3 771.7,270.0 773.3,280.0 775.7,333.3 777.0,333.1 778.3,335.0 780.0,313.3 781.7,286.7 784.0,253.3 785.3,246.4 786.7,238.3 789.0,240.0 790.7,286.7 792.7,326.7 795.0,276.7 797.3,238.3 798.7,245.2 800.0,250.0 801.3,265.6 802.7,280.0 804.0,315.0 806.0,250.0 808.3,260.0 810.7,296.7 812.7,241.7 815.0,273.3 816.7,343.3 819.0,383.3 821.0,353.3 822.7,286.7 824.3,313.3 826.7,386.7 828.0,418.6 829.3,453.3 831.7,486.7 833.3,460.0 835.0,510.0 837.3,473.3 839.3,460.0 841.7,420.0 843.3,470.0 845.7,520.0 847.0,500.1 848.3,480.0 850.7,493.3 852.0,506.7 853.3,520.0 854.7,531.0 856.0,541.7 858.3,503.3 860.0,453.3 861.7,410.0 863.3,386.7 864.7,375.5 866.0,363.3 868.3,353.3 870.7,343.3 872.0,352.1 873.3,360.0 874.7,350.8 876.0,343.3 878.3,326.7 880.7,370.0 882.0,386.0 883.3,403.3 884.7,418.8 886.0,433.3 888.3,446.7 890.0,406.7 891.7,353.3 893.3,306.7 895.0,260.0 896.3,251.1 897.7,240.7 900.0,250.0 901.3,262.3 902.7,273.3 905.0,286.7 907.3,243.3 909.3,253.3 911.0,296.7 912.7,330.0 914.3,354.5 916.0,380.0 917.8,401.3 919.0,418.0 920.3,433.3 922.4,451.1 923.6,460.1 924.9,468.8 926.7,493.7 928.4,412.0 930.2,458.2 931.4,477.4 932.7,497.3 934.1,508.6 935.5,522.1 937.0,519.1 938.4,515.0 940.2,550.6 941.9,584.3 943.2,560.7 944.4,536.4 946.2,529.3 947.4,510.4 948.7,490.2 950.5,468.8 952.6,472.4 954.4,536.4 956.1,568.3 957.9,515.0 959.7,479.5 961.5,563.0 962.7,541.5 964.0,522.1 965.7,479.5 967.0,473.0 968.2,465.3 970.0,436.9 971.8,415.5 973.6,444.0 975.7,486.6 977.5,532.8 979.2,543.5 981.0,511.5 982.8,536.4 984.6,564.8 986.4,579.0 988.1,600.3 989.6,628.8 991.3,660.7 993.1,628.8 994.9,650.1 996.7,643.0 998.4,625.2 1000.2,607.4 1002.0,611.0 1003.8,635.9 1005.5,675.0 1007.7,694.5 1009.5,667.8 1011.2,643.0 1013.0,685.6 1014.8,657.2 1016.6,628.8 1018.3,607.4 1020.1,621.6 1021.9,600.3 1023.7,611.0 1025.4,586.1 1027.2,600.3 1028.5,596.0 1029.7,589.7 1031.0,582.9 1032.2,577.2 1034.3,575.5 1036.1,607.4 1037.9,643.0 1039.7,660.7 1041.4,682.1 1043.2,692.7 1045.0,611.0 1046.8,671.4 1048.5,699.8 1050.3,701.6 1051.6,689.1 1052.8,678.5 1054.1,661.0 1055.3,643.0 1057.4,685.6 1059.2,667.8 1061.0,705.2 1062.8,699.8 1064.5,650.1 1066.3,614.5 1068.1,635.9 1069.9,621.6 1071.6,596.8 1073.4,717.6 1075.2,726.5 1077.0,706.9 1078.7,735.4 1080.5,706.9 1082.3,721.2 1084.1,657.2 1085.9,653.6 1087.1,645.9 1088.3,639.4 1089.6,668.0 1090.8,699.8 1093.0,667.8 1094.7,706.9 1096.5,699.8 1098.3,657.2 1099.5,640.0 1100.7,613.2 1101.8,577.7 1103.0,546.9 1104.2,537.4 1105.4,549.3 1106.6,523.2 1108.2,513.7 1110.1,511.3 1111.8,501.9 1113.2,518.5 1114.4,542.1 1115.6,562.3 1117.2,551.6 1118.4,494.8 1120.1,492.4 1121.5,518.5 1123.2,520.8 1124.8,527.9 1126.0,565.8 1127.4,594.3 1128.6,613.2 1129.8,518.5 1131.0,482.9 1132.2,473.4 1133.8,478.2 1135.5,482.9 1136.9,487.7 1138.1,468.7 1139.8,480.5 1141.4,495.9 1142.8,452.1 1144.5,445.0 1146.1,456.9 1147.6,525.6 1149.2,499.5 1150.4,473.4 1152.1,475.8 1153.5,473.4 1155.2,494.8 1156.3,542.1 1157.5,558.7 1159.2,549.3 1160.6,551.6 1162.3,565.8 1163.4,570.6 1164.6,516.1 1165.8,532.7 1167.0,546.9 1168.2,554.0 1169.8,570.6 1171.7,587.2 1172.9,570.6 1174.1,494.8 1175.3,440.3 1177.2,445.0 1178.8,447.4 1180.0,434.4 1181.7,454.5 1182.9,471.1 1184.3,442.6 1185.9,456.9 1187.1,478.2 1188.3,494.8 1190.0,510.2 1191.4,494.8 1193.1,506.6 1194.7,523.2 1195.9,511.3 1197.3,487.7 1199.0,497.1 1200.2,518.5 1201.3,601.4 1203.0,606.1 1204.4,596.6 1206.1,562.3 1207.7,613.2 1209.2,599.0 1210.8,612.0 1212.0,596.6 1213.2,577.7 1214.4,561.1 1216.3,546.9 1217.5,570.6 1218.6,591.9 1220.3,565.8 1221.5,530.3 1223.1,523.2 1224.6,516.1 1225.7,532.7 1226.9,575.3 1228.1,518.5 1229.3,468.7 1230.5,430.8 1231.7,404.7 1232.9,400.0 1235.0,393.3 1237.3,386.7 1238.7,385.7 1240.0,383.3 1242.3,390.0 1243.7,385.0 1245.0,380.0 1247.3,386.7 1249.3,363.3 1251.0,335.0 1253.3,340.0 1255.0,370.0 1257.3,336.7 1259.3,353.3 1261.7,360.0 1264.0,335.0 1265.7,323.3 1267.7,346.7 1269.3,386.7 1271.0,426.7 1273.3,446.7 1275.7,413.3 1277.7,386.7 1279.3,353.3 1281.0,293.3 1283.3,286.7 1285.7,296.7 1287.7,270.0 1290.0,243.3 1292.3,240.0 1293.7,240.5 1295.0,243.3 1297.3,273.3 1298.7,293.5 1300.0,313.3 1302.3,270.0 1303.7,279.0 1305.0,286.7 1307.3,265.0 1308.7,291.9 1310.0,316.7 1312.3,356.7 1314.3,323.3 1316.7,360.0 1319.0,396.7 1320.3,375.1 1321.7,353.3 1324.0,300.0 1325.3,280.2 1326.7,261.7 1329.0,286.7 1330.3,291.1 1331.7,296.7 1334.0,258.3 1335.3,282.4 1336.7,306.7 1338.0,334.5 1339.3,360.0 1341.7,393.3 1343.3,423.3 1345.7,413.3 1347.7,456.7 1350.0,436.7 1352.3,353.3 1354.3,313.3 1356.7,295.0 1359.0,326.7 1360.3,382.1 1361.7,440.0 1362.3,483.3 1364.0,460.0 1365.7,420.0 1367.7,453.3 1370.0,363.3 1372.3,406.7 1374.3,480.0 1376.0,505.0 1378.3,453.3 1380.7,393.3 1382.7,360.0 1385.0,346.7 1386.7,393.3 1389.0,420.0 1391.0,440.0 1392.7,353.3 1394.3,276.7 1396.7,286.7 1399.0,246.7 1400.3,252.7 1401.7,256.7 1404.0,236.7 1405.3,236.3 1406.7,235.0 1409.0,253.3 1410.7,240.0 1412.7,280.0 1415.0,263.3 1417.3,276.7 1419.3,250.0 1421.7,241.7 1423.3,286.7 1425.7,353.3 1427.7,376.7 1430.0,360.0 1432.3,280.0 1434.3,320.0 1436.7,253.3 1439.0,260.0 1441.0,273.3 1443.3,313.3 1445.7,373.3 1447.0,377.7 1448.3,380.0 1450.0,353.3 1452.3,406.7 1453.7,422.8 1455.0,440.0 1457.3,420.0 1458.7,434.1 1460.0,446.7 1462.3,433.3 1463.7,428.4 1465.0,423.3 1466.7,420.0 1469.0,446.7 1471.0,453.3 1472.7,468.3 1474.3,436.7 1476.7,420.0 1479.0,406.7 1480.0,354.6 1481.7,348.1 1483.3,356.8 1484.8,328.6 1486.1,263.4 1487.2,250.4 1488.7,263.4 1490.2,246.1 1491.9,234.1 1493.5,241.7 1494.8,252.6 1496.3,272.1 1497.8,291.6 1499.1,309.0 1500.2,263.4 1501.3,243.9 1502.8,263.4 1504.3,291.6 1505.6,328.6 1506.5,343.8 1507.8,274.3 1509.3,259.1 1510.8,263.4 1512.1,252.6 1513.7,241.7 1514.7,237.4 1516.3,241.7 1517.6,252.6 1519.1,277.5 1520.6,254.7 1522.3,261.3 1523.9,291.6 1525.2,304.7 1526.7,285.1 1528.2,263.4 1529.9,242.8 1531.5,285.1 1533.2,326.4 1534.7,319.9 1536.4,337.2 1538.2,356.8 1539.7,337.2 1541.2,328.6 1542.5,293.8 1544.0,289.5 1545.6,287.3 1546.9,306.8 1548.4,328.6 1549.9,366.5 1551.2,328.6 1552.7,252.6 1553.8,237.4 1555.3,240.6 1556.4,263.4 1557.5,337.2 1558.6,341.6 1559.7,391.5 1560.8,424.1 1562.1,398.0 1563.2,363.3 1564.2,328.6 1565.3,389.3 1566.4,393.7 1567.5,437.1 1566.2,420.0 1567.3,441.7 1568.4,483.0 1569.5,454.7 1570.6,485.1 1571.6,511.2 1572.7,532.9 1573.8,554.6 1574.9,569.8 1576.0,573.1 1577.1,548.1 1578.2,535.1 1579.2,545.9 1580.8,519.9 1582.1,532.9 1583.6,513.4 1584.7,515.5 1585.8,548.1 1586.8,564.4 1587.9,558.9 1589.0,538.3 1590.1,545.9 1591.2,556.8 1592.7,541.6 1593.8,528.6 1594.9,502.5 1596.0,477.5 1597.0,491.6 1598.1,515.5 1599.2,463.4 1600.3,446.1 1601.4,456.9 1602.5,491.6 1603.6,522.0 1604.6,543.8 1605.7,535.1 1606.8,572.0 1607.9,615.4 1608.6,634.9" fill="none" stroke="#f0911f" stroke-width="3.4" stroke-linejoin="round" stroke-linecap="round"/>
<polyline points="191.7,721.8 193.3,748.3 195.0,699.2 196.7,710.5 198.3,700.8 200.0,700.9 201.7,676.6 203.3,688.0 205.0,658.8 206.7,648.2 208.3,665.9 210.0,653.7 211.2,653.8 212.3,650.3 213.3,645.1 214.3,636.4 215.5,646.3 216.7,655.6 217.8,657.3 219.0,661.6 220.7,688.0 221.7,674.3 222.7,667.7 223.8,670.8 225.0,672.3 226.7,653.6 227.8,654.9 229.0,650.2 230.0,646.3 231.0,642.5 232.2,633.5 233.3,626.2 234.5,619.9 235.7,618.5 236.7,618.4 237.7,622.6 238.8,619.5 240.0,611.5 241.2,600.8 242.3,591.1 243.3,594.0 244.3,590.1 245.5,604.1 246.7,615.6 248.3,583.2 249.5,580.1 250.7,577.3 251.7,572.8 252.7,567.2 253.8,557.5 255.0,544.9 256.2,531.2 257.3,516.1 258.3,506.8 259.3,495.1 260.5,483.3 261.7,478.5 263.3,493.2 265.0,513.1 266.7,507.7 268.3,528.2 270.0,508.6 271.2,516.7 272.3,520.8 273.3,525.5 274.3,530.5 275.5,539.9 276.7,546.6 277.8,538.2 279.0,538.1 280.0,543.1 281.0,547.9 282.2,556.7 283.3,567.9 285.0,600.8 286.7,577.8 288.3,560.2 290.0,540.7 291.7,554.1 293.3,557.5 295.0,545.4 296.7,541.6 298.3,557.4 299.5,562.3 300.7,561.2 301.7,568.2 302.7,580.1 303.8,572.2 305.0,567.6 306.7,582.3 307.8,588.8 309.0,591.4 310.0,592.7 311.0,599.9 312.2,600.0 313.3,605.9 315.0,592.9 316.7,583.2 317.8,579.7 319.0,576.7 320.0,572.5 321.0,567.4 322.2,563.8 323.3,560.8 324.5,561.1 325.7,557.3 326.7,561.4 327.7,567.9 328.8,568.7 330.0,571.9 331.2,579.2 332.3,580.6 333.3,583.8 334.3,583.8 335.5,587.3 336.7,590.3 337.8,583.8 339.0,583.5 340.0,577.5 341.0,567.5 342.2,583.6 343.3,596.5 344.5,601.0 345.7,602.7 346.7,609.4 347.7,615.0 348.8,607.5 350.0,603.5 351.2,603.8 352.3,602.9 353.3,600.7 354.3,602.9 355.5,598.8 356.7,592.3 357.8,585.7 359.0,578.7 360.0,576.4 361.0,575.4 362.2,576.4 363.3,579.0 364.5,584.8 365.7,584.1 366.7,596.6 367.7,608.1 368.8,607.5 370.0,608.2 371.2,608.1 372.3,602.1 373.3,602.9 374.3,605.9 375.5,602.7 376.7,594.5 377.8,592.7 379.0,590.4 380.0,600.9 381.0,606.6 382.2,612.1 383.3,611.8 384.5,607.0 385.7,604.0 386.7,604.1 387.7,600.2 388.8,600.1 390.0,600.7 391.2,602.2 392.3,599.7 393.3,604.8 394.3,607.3 395.5,602.7 396.7,601.7 397.8,606.5 399.0,607.8 400.0,607.9 401.0,604.5 402.2,604.3 403.3,606.6 404.5,608.1 405.7,603.9 406.7,604.7 407.7,605.9 408.8,604.4 410.0,602.7 411.2,609.1 412.3,608.4 413.3,618.4 414.3,635.3 415.5,642.7 416.7,650.1 417.8,655.3 419.0,666.1 420.0,668.1 421.0,665.6 422.2,672.9 423.3,678.9 424.5,683.1 425.7,687.1 426.7,682.1 427.7,678.8 428.8,668.1 430.0,657.0 431.2,666.6 432.3,672.0 433.3,669.9 434.3,660.9 435.5,663.6 436.7,661.6 437.8,667.9 439.0,673.0 440.0,674.7 441.0,674.4 442.2,669.0 443.3,670.9 444.5,671.6 445.7,675.1 446.7,678.2 447.7,678.6 448.8,678.7 450.0,682.5 451.2,677.8 452.3,672.6 453.3,670.0 454.3,671.8 455.5,667.7 456.7,666.7 457.8,663.6 459.0,661.4 460.0,664.8 461.0,668.5 462.2,663.4 463.3,664.8 464.5,662.8 465.7,659.1 466.7,662.4 467.7,660.9 468.8,661.9 470.0,662.2 471.2,658.6 472.3,659.8 473.3,655.7 474.3,653.1 475.5,646.2 476.7,639.7 477.8,636.6 479.0,627.3 480.0,626.0 481.0,625.5 482.2,624.7 483.3,623.5 484.5,627.2 485.7,625.9 486.7,622.2 487.7,624.6 488.8,619.7 490.0,615.3 491.2,610.5 492.3,607.3 493.3,594.0 494.3,579.3 495.5,576.3 496.7,575.2 497.8,579.1 499.0,586.5 500.0,581.3 501.0,572.9 502.2,569.1 503.3,567.5 504.5,573.7 505.7,580.4 506.7,585.1 507.7,586.3 508.8,578.4 510.0,567.8 511.2,558.1 512.3,549.2 513.3,537.3 514.3,526.2 515.5,533.9 516.7,544.4 517.8,535.8 519.0,526.8 520.0,530.7 521.0,534.5 522.2,539.3 523.3,549.1 524.5,554.4 525.7,562.2 526.7,559.7 527.7,553.2 528.8,550.7 530.0,545.6 531.2,537.3 532.3,532.9 533.3,532.7 534.3,538.1 535.5,542.9 536.7,549.2 537.8,548.1 539.0,546.5 540.0,550.9 541.0,554.1 542.2,553.6 543.3,558.4 544.5,551.2 545.7,547.3 546.7,551.9 547.7,549.2 548.8,547.9 550.0,547.0 551.2,554.2 552.3,553.4 553.3,554.3 554.3,561.4 555.5,567.2 556.7,580.0 557.8,580.5 559.0,582.3 560.0,584.0 561.0,582.8 562.2,580.3 563.3,572.6 564.5,578.6 565.7,580.3 566.7,577.2 567.7,569.6 568.8,568.6 570.0,566.2 571.2,562.1 572.3,563.5 573.3,563.4 574.3,563.7 575.5,563.0 576.7,564.5 577.8,566.4 579.0,570.3 580.0,576.6 581.0,579.7 582.2,584.1 583.3,589.2 584.5,587.3 585.7,586.0 586.7,587.4 587.7,592.8 588.8,593.6 590.0,588.4 591.2,591.5 592.3,589.9 593.3,595.0 594.3,598.4 595.5,593.0 596.7,587.0 597.8,590.0 599.0,594.2 600.0,594.2 601.0,588.4 602.2,581.4 603.3,579.3 604.5,576.9 605.7,570.6 606.7,572.3 607.7,576.3 608.8,569.2 610.0,564.9 611.2,567.0 612.3,571.8 613.3,565.6 614.3,559.8 615.5,560.8 616.7,561.2 617.8,554.4 619.0,552.8 620.0,552.2 621.0,555.4 622.2,555.9 623.3,555.5 624.5,556.4 625.7,556.8 626.7,564.2 627.7,569.1 628.8,566.2 630.0,565.4 631.7,585.3 633.3,634.7 635.0,624.8 636.2,622.6 637.3,613.7 638.3,609.0 639.3,603.3 640.5,602.0 641.7,599.0 642.8,590.8 644.0,583.4 645.0,591.3 646.0,599.1 647.2,598.2 648.3,601.4 649.5,601.4 650.7,597.1 651.7,588.5 652.7,581.4 653.8,580.9 655.0,577.9 656.2,570.5 657.3,561.1 658.3,564.0 659.3,569.6 660.5,564.0 661.7,557.8 662.8,563.3 664.0,567.3 665.0,569.5 666.0,567.4 667.2,563.7 668.3,554.3 669.5,556.9 670.7,561.3 671.7,556.9 672.7,555.4 673.8,562.3 675.0,562.4 676.2,560.6 677.3,560.3 678.3,563.6 679.3,562.3 680.5,564.3 681.7,566.0 682.8,564.8 684.0,561.5 685.0,564.3 686.0,567.8 687.2,565.7 688.3,566.9 689.5,561.9 690.7,559.9 691.7,559.8 692.7,554.5 693.8,551.9 695.0,546.2 696.2,538.1 697.3,538.9 698.3,537.2 699.3,539.9 700.5,538.5 701.7,534.1 702.8,534.2 704.0,532.8 705.0,536.2 706.0,535.7 707.2,536.3 708.3,536.4 709.5,537.5 710.7,538.9 711.7,542.0 712.7,549.5 713.8,550.7 715.0,554.4 716.2,549.6 717.3,544.0 718.3,545.7 719.3,552.2 720.5,550.1 721.7,544.9 722.8,550.3 724.0,551.3 725.0,544.7 726.0,545.5 727.2,539.1 728.3,537.0 729.5,541.1 730.7,542.5 731.7,538.0 732.7,534.3 733.8,529.1 735.0,523.9 736.2,518.7 737.3,513.6 738.3,518.2 739.3,520.0 740.5,513.1 741.7,508.2 742.8,502.8 744.0,498.5 745.3,492.3 746.7,488.7 747.8,481.0 748.9,479.6 750.0,475.1 751.1,478.5 752.2,477.2 753.3,477.2 754.7,475.0 756.0,473.4 757.2,468.3 758.3,459.4 759.5,457.0 760.7,448.1 761.7,441.6 762.7,433.9 763.8,425.5 765.0,421.1 766.7,408.3 768.3,391.8 770.0,389.5 771.7,409.1 773.3,401.3 774.5,408.8 775.7,415.3 776.7,419.3 777.7,421.4 778.8,415.7 780.0,408.0 781.7,393.1 782.8,385.4 784.0,375.0 785.3,368.2 786.7,364.7 787.8,355.8 789.0,354.6 790.0,362.6 791.0,369.9 792.2,371.6 793.3,377.0 794.7,370.6 796.0,364.2 797.2,358.0 798.3,348.4 799.5,347.5 800.7,352.0 802.0,355.3 803.3,360.7 804.7,355.7 806.0,345.6 807.2,348.6 808.3,347.9 809.5,346.0 810.7,345.2 812.0,342.3 813.3,338.1 815.0,353.1 816.2,357.2 817.3,366.1 818.7,364.1 820.0,359.8 821.3,355.4 822.7,352.8 823.8,357.9 825.0,358.4 826.7,381.4 828.0,391.0 829.3,397.5 830.5,403.7 831.7,408.1 832.8,400.4 834.0,396.3 835.3,407.5 836.7,412.8 838.0,408.8 839.3,401.6 841.0,391.5 842.2,406.8 843.3,417.6 844.5,421.1 845.7,421.8 847.0,415.1 848.3,406.1 849.5,411.7 850.7,416.3 852.0,417.8 853.3,416.8 854.7,421.6 856.0,423.6 857.3,424.4 858.3,413.5 859.3,403.5 860.5,394.2 861.7,384.1 862.8,382.8 864.0,381.1 865.3,377.1 866.7,373.0 868.0,375.8 869.3,375.7 870.5,372.9 871.7,371.5 873.0,371.4 874.3,371.4 875.5,372.0 876.7,368.4 877.8,364.5 879.0,362.5 880.3,370.0 881.7,377.2 882.8,373.5 884.0,370.0 885.3,377.6 886.7,387.9 887.8,379.8 889.0,376.0 890.3,368.0 891.7,361.2 893.3,350.9 894.7,347.3 896.0,341.1 897.2,336.7 898.3,333.7 899.5,337.4 900.7,342.8 902.0,341.4 903.3,341.6 904.7,339.8 906.0,335.9 907.7,332.7 908.8,333.4 910.0,338.9 911.2,344.2 912.3,347.0 913.7,353.9 915.0,352.1 916.2,354.0 917.3,359.3 918.7,361.2 920.0,367.0 921.3,369.1 922.7,370.9 923.8,366.8 925.0,367.4 926.2,368.0 927.3,373.2 928.7,369.3 930.0,369.3 931.3,371.0 932.7,375.0 933.8,379.9 935.0,388.2 936.2,386.1 937.3,382.6 938.7,387.4 940.0,397.2 941.7,409.6 942.8,404.5 944.0,397.2 945.3,388.3 946.7,380.2 948.0,379.9 949.3,378.4 950.5,382.5 951.7,390.3 952.8,397.5 954.0,398.7 955.3,394.2 956.7,383.7 958.0,386.9 959.3,389.6 960.5,394.9 961.7,394.5 962.8,391.7 964.0,390.3 965.3,391.1 966.7,384.7 967.8,381.7 969.0,381.8 970.3,374.7 971.7,372.3 972.8,375.5 974.0,380.8 975.3,387.7 976.7,388.6 978.0,392.8 979.3,395.0 980.5,394.0 981.7,390.8 982.8,394.4 984.0,393.1 985.3,394.4 986.7,394.9 988.3,408.0 990.0,426.8 991.3,427.0 992.7,427.7 993.8,427.5 995.0,424.1 996.2,428.1 997.3,429.6 998.7,424.8 1000.0,417.9 1001.3,422.5 1002.7,420.6 1004.3,445.9 1006.0,461.4 1007.7,478.0 1008.8,469.5 1010.0,464.7 1011.2,473.3 1012.3,477.9 1013.7,475.0 1015.0,471.1 1016.2,472.7 1017.3,479.1 1018.7,470.2 1020.0,459.4 1021.2,455.8 1022.3,450.6 1023.7,453.8 1025.0,459.2 1026.2,454.0 1027.3,455.0 1028.7,451.8 1030.0,450.4 1031.3,452.0 1032.7,448.5 1033.8,452.0 1035.0,457.3 1036.2,465.3 1037.3,470.6 1038.7,468.9 1040.0,471.2 1041.3,473.2 1042.7,467.1 1043.8,466.0 1045.0,462.9 1046.2,469.9 1047.3,474.3 1048.7,478.6 1050.0,480.6 1051.3,476.6 1052.7,474.4 1053.8,474.5 1055.0,479.7 1056.2,473.8 1057.3,470.1 1058.7,477.1 1060.0,475.3 1061.3,479.6 1062.7,476.3 1063.8,475.2 1065.0,471.5 1066.2,476.6 1067.3,477.7 1068.7,473.6 1070.0,470.1 1071.2,473.4 1072.3,472.9 1073.3,497.2 1074.7,498.1 1076.0,497.6 1077.2,498.2 1078.3,494.2 1079.7,497.1 1081.0,495.3 1082.2,494.1 1083.3,491.4 1084.7,493.8 1086.0,491.1 1087.2,489.5 1088.3,488.0 1089.5,489.0 1090.7,494.8 1092.0,495.5 1093.3,493.1 1094.7,495.9 1096.0,497.5 1097.2,494.3 1098.3,493.8 1099.5,495.2 1100.7,489.6 1100.0,493.1 1100.9,479.7 1101.8,468.9 1103.0,466.3 1104.2,468.4 1105.4,464.6 1106.6,461.8 1107.8,461.1 1109.0,457.4 1110.1,457.3 1111.3,457.1 1112.5,457.7 1113.7,463.6 1114.9,466.9 1116.1,461.9 1117.2,453.9 1118.4,453.3 1119.6,449.5 1120.8,456.2 1122.0,460.0 1123.2,455.6 1124.4,458.2 1125.5,460.8 1126.7,466.0 1127.9,471.9 1129.1,448.7 1130.3,442.5 1131.5,436.4 1132.6,433.5 1133.8,437.7 1135.0,435.0 1136.2,434.9 1137.4,433.3 1138.6,434.4 1139.8,431.3 1140.9,425.1 1142.1,422.9 1143.3,423.2 1144.5,424.0 1145.7,422.2 1146.6,428.8 1147.6,439.0 1149.2,432.2 1150.4,433.3 1151.6,433.1 1152.8,433.2 1154.0,430.6 1155.2,432.3 1156.3,436.4 1157.5,436.8 1158.7,436.8 1159.9,438.8 1161.1,439.5 1162.3,439.9 1163.4,434.6 1164.6,436.3 1165.8,440.1 1167.0,442.6 1168.2,441.9 1169.4,442.1 1170.5,446.5 1171.5,443.0 1172.4,443.5 1174.1,426.9 1175.3,425.6 1176.5,421.7 1177.7,420.0 1178.8,420.1 1180.0,425.4 1181.2,426.1 1182.4,427.2 1183.6,424.8 1184.8,428.2 1185.9,425.1 1187.1,425.5 1188.3,425.0 1189.5,427.9 1190.7,428.4 1191.9,426.1 1193.1,428.1 1194.2,426.5 1195.4,428.0 1196.6,427.2 1197.8,429.9 1199.5,430.6 1200.4,435.2 1201.3,439.6 1202.5,442.2 1203.7,444.4 1204.9,442.0 1206.1,440.6 1207.3,443.3 1208.5,442.8 1209.6,442.0 1210.8,446.1 1212.0,449.3 1213.2,444.3 1214.4,442.3 1215.6,440.4 1216.7,437.9 1217.9,438.1 1219.1,438.1 1220.3,438.7 1221.5,438.0 1222.7,439.6 1223.9,438.3 1225.0,437.8 1226.2,438.3 1227.2,435.6 1228.1,431.9 1229.8,423.4 1231.0,411.9 1232.1,407.5 1233.3,404.8 1234.5,408.3 1235.7,411.4 1236.9,407.4 1238.1,404.4 1239.3,404.4 1240.4,405.5 1241.6,405.9 1242.8,402.4 1244.0,404.3 1245.2,399.3 1246.4,398.6 1247.3,393.2 1248.7,387.8 1250.0,385.3 1251.3,387.4 1252.7,389.7 1253.8,386.3 1255.0,380.8 1256.2,384.1 1257.3,385.3 1258.7,383.3 1260.0,380.3 1261.3,383.5 1262.7,386.0 1263.8,378.1 1265.0,377.3 1266.2,381.0 1267.3,386.6 1268.7,390.7 1270.0,393.2 1271.3,393.2 1272.7,391.8 1273.8,392.2 1275.0,385.2 1276.2,387.3 1277.3,391.8 1278.7,380.9 1280.0,371.8 1281.2,372.4 1282.3,369.8 1283.7,364.5 1285.0,362.6 1286.2,360.2 1287.3,357.5 1288.3,349.7 1289.3,345.8 1290.5,336.3 1291.7,331.3 1292.8,327.8 1294.0,323.7 1295.3,327.9 1296.7,331.4 1298.0,335.6 1299.3,337.9 1300.5,335.5 1301.7,327.5 1302.8,326.5 1304.0,329.1 1305.3,323.7 1306.7,323.2 1308.0,328.7 1309.3,331.8 1310.5,338.3 1311.7,340.6 1312.8,339.5 1314.0,342.3 1315.3,341.7 1316.7,348.8 1318.0,343.5 1319.3,346.0 1320.5,341.6 1321.7,337.9 1322.8,331.4 1324.0,326.9 1325.3,329.3 1326.7,324.9 1328.0,326.1 1329.3,331.5 1330.5,331.7 1331.7,326.1 1332.8,329.8 1334.0,327.3 1335.3,329.4 1336.7,330.9 1338.0,335.5 1339.3,342.7 1340.5,342.6 1341.7,344.3 1342.8,342.4 1344.0,340.6 1345.3,345.2 1346.7,352.2 1348.0,349.6 1349.3,351.1 1350.5,347.2 1351.7,340.1 1352.8,338.6 1354.0,332.5 1355.3,334.0 1356.7,339.2 1358.0,345.4 1359.3,354.6 1360.5,354.1 1361.7,353.6 1362.8,348.5 1364.0,344.5 1365.3,346.9 1366.7,347.5 1368.0,343.3 1369.3,340.2 1370.5,343.0 1371.7,346.8 1372.8,350.4 1374.0,348.6 1375.3,352.0 1376.7,356.0 1377.8,352.6 1379.0,345.3 1379.9,348.3 1380.8,347.5 1381.7,342.6 1382.7,341.5 1383.6,340.2 1384.5,338.3 1385.4,342.8 1386.3,339.6 1387.2,341.1 1388.1,336.1 1389.0,333.8 1390.0,337.8 1390.9,337.4 1391.8,337.9 1392.7,335.4 1393.6,333.3 1394.5,333.6 1395.4,328.9 1396.3,330.0 1397.3,328.9 1398.2,326.2 1399.1,327.7 1400.0,325.6 1401.3,326.5 1402.7,325.9 1403.8,313.8 1405.0,302.2 1406.2,300.4 1407.3,299.6 1408.7,296.5 1410.0,292.8 1411.3,290.9 1412.7,285.9 1413.8,290.2 1415.0,287.5 1416.2,284.2 1417.3,284.5 1418.7,284.6 1420.0,281.0 1421.3,284.9 1422.7,285.5 1423.8,290.9 1425.0,290.2 1426.3,287.4 1427.7,285.2 1428.8,290.6 1430.0,295.0 1431.2,290.0 1432.3,286.5 1433.7,285.7 1435.0,280.9 1436.2,281.6 1437.3,283.6 1438.7,284.5 1440.0,281.1 1441.3,286.7 1442.7,286.3 1443.8,291.1 1445.0,289.8 1446.2,287.4 1447.3,288.3 1448.7,291.5 1450.0,290.0 1451.2,293.9 1452.3,295.0 1453.7,296.2 1455.0,298.7 1456.2,301.4 1457.3,302.7 1458.3,305.8 1459.3,310.7 1460.5,310.7 1461.7,307.7 1462.8,303.1 1464.0,301.3 1465.3,301.3 1466.7,302.1 1468.0,302.9 1469.3,305.4 1470.5,305.8 1471.7,305.0 1473.3,313.5 1474.5,309.6 1475.7,305.8 1477.0,299.9 1478.3,296.6 1480.0,296.1 1481.1,295.2 1482.2,294.6 1483.3,290.8 1484.3,290.6 1485.4,284.2 1486.5,284.8 1487.6,280.4 1488.7,278.4 1489.8,279.8 1490.9,275.6 1491.9,272.8 1493.0,274.7 1494.1,276.3 1495.2,275.2 1496.9,279.7 1498.5,278.2 1499.5,275.4 1500.6,278.9 1501.7,277.5 1502.8,279.1 1503.9,280.9 1505.0,282.8 1506.5,278.2 1508.2,280.4 1509.3,279.7 1510.4,277.4 1511.5,274.0 1512.6,277.7 1514.3,271.6 1515.8,264.5 1517.3,264.8 1519.1,268.0 1520.8,272.1 1522.3,269.1 1523.4,267.1 1524.5,269.1 1525.6,268.8 1526.7,271.1 1527.8,269.6 1528.8,265.1 1530.4,263.9 1532.1,269.2 1533.2,272.9 1534.3,270.8 1535.4,272.3 1536.4,271.6 1537.5,275.7 1538.6,273.7 1539.7,276.9 1540.8,273.7 1541.9,272.1 1543.0,267.6 1544.0,267.3 1545.1,268.2 1546.2,271.4 1547.3,270.6 1549.0,272.0 1550.6,274.8 1551.6,269.3 1552.7,263.9 1553.8,260.1 1554.9,258.6 1556.4,272.0 1558.2,272.5 1559.9,276.3 1561.4,272.8 1562.5,270.8 1563.6,272.5 1565.3,277.0 1566.8,281.3 1568.6,284.9 1570.1,279.4 1571.6,284.4 1573.4,292.8 1575.1,302.3 1576.6,296.1 1578.1,302.1 1579.9,294.6 1581.6,300.9 1583.1,298.9 1584.9,298.6 1586.4,304.6 1588.1,303.4 1589.6,299.6 1591.2,300.3 1592.9,298.2 1594.6,298.6 1596.2,295.2 1597.9,296.8 1599.4,291.9 1600.9,290.6 1602.7,297.1 1604.2,300.5 1605.9,298.2 1607.0,304.9 1608.1,315.5" fill="none" stroke="#7d8f97" stroke-width="3.2" stroke-linejoin="round" stroke-linecap="round"/>
<rect x="287.7" y="233" width="13.0" height="554" fill="rgb(247,131,123)" fill-opacity="0.38"/>
<rect x="318.3" y="233" width="11.0" height="554" fill="rgb(247,131,123)" fill-opacity="0.38"/>
<rect x="969" y="233" width="6.0" height="554" fill="rgb(247,131,123)" fill-opacity="0.38"/>
<rect x="1597.6" y="233" width="4.4" height="554" fill="rgb(247,131,123)" fill-opacity="0.38"/>
<rect x="413.3" y="233" width="53.4" height="554" fill="rgb(150,215,180)" fill-opacity="0.36"/>
<rect x="590" y="233" width="9.3" height="554" fill="rgb(150,215,180)" fill-opacity="0.36"/>
<rect x="630" y="233" width="13.3" height="554" fill="rgb(150,215,180)" fill-opacity="0.36"/>
<rect x="988.3" y="233" width="111.7" height="554" fill="rgb(150,215,180)" fill-opacity="0.36"/>
<rect x="1602" y="233" width="10.0" height="554" fill="rgb(150,215,180)" fill-opacity="0.36"/>
<text x="46" y="967.5" font-size="21.5" fill="#7b7b7b" textLength="424" lengthAdjust="spacingAndGlyphs">© 2026 Glassnode. All Rights Reserved.</text>
<g transform="translate(1525,930) scale(0.13333)" stroke="#1c1c1c"><g fill="none" stroke-width="34" stroke-linecap="butt"><circle cx="161" cy="236" r="79"/><path d="M227,140 V330 Q227,392 155,392 Q110,392 80,362"/><path d="M310,78 V333"/><circle cx="473" cy="236" r="79"/><path d="M536,140 V333"/><path d="M706,190 C700,165 680,157 660,157 C632,157 613,172 613,195 C613,222 640,230 662,237 C688,245 710,255 710,280 C710,305 688,320 660,320 C632,320 612,305 607,280"/><path d="M858,190 C852,165 832,157 812,157 C784,157 765,172 765,195 C765,222 792,230 814,237 C840,245 862,255 862,280 C862,305 840,320 812,320 C784,320 764,305 759,280"/><path d="M922,140 V333 M922,225 C922,180 950,157 985,157 C1020,157 1043,180 1043,225 V333"/><circle cx="1192" cy="236" r="79"/><circle cx="1413" cy="236" r="79"/><path d="M1478,88 V333"/><path d="M1544,243 H1687.2 A72.5,79 0 1 0 1674.4,281.3"/></g></g>
</svg>
</body></html>
